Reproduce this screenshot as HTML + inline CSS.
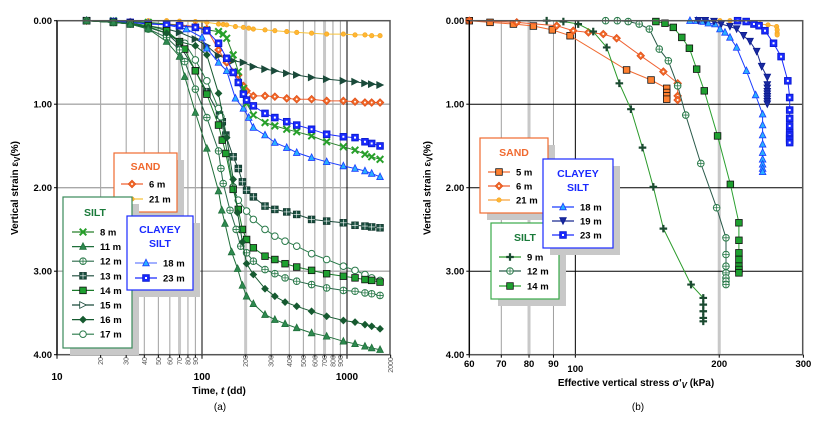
<!DOCTYPE html>
<html><head><meta charset="utf-8"><style>
body{margin:0;background:#fff;}
svg{display:block;font-family:"Liberation Sans",Arial,sans-serif;}
</style></head><body>
<svg id="chart" width="830" height="432" viewBox="0 0 830 432" xmlns="http://www.w3.org/2000/svg"></svg>
<script>
// ===== Panel (a) data: time (days) vs vertical strain (%) =====
const aTimeTicksMajor = [10, 100, 1000];
const aTimeTicksMinor = [20,30,40,50,60,70,80,90,200,300,400,500,600,700,800,900,2000];
const strainTicks = [0, 1, 2, 3, 4];
const strainTickLabels = ["0.00","1.00","2.00","3.00","4.00"];

const a21T = [16,24.5,32,42.6,57,70,90,108,130,140,148,170,193,210,226,272,318,384,450,570,724,944,1136,1330,1480,1690];
const a21S = [0,0,0,0,0,0.005,0.01,0.02,0.04,0.045,0.05,0.07,0.08,0.09,0.1,0.11,0.12,0.13,0.14,0.15,0.16,0.16,0.17,0.17,0.18,0.18];
const a6T = [16,24.5,32,42.6,57,70,90,108,130,148,178,193,203,226,272,318,384,450,570,724,944,1136,1330,1480,1690];
const a6S = [0,0.01,0.02,0.03,0.04,0.05,0.07,0.1,0.35,0.5,0.65,0.78,0.84,0.9,0.9,0.91,0.93,0.94,0.94,0.96,0.96,0.97,0.98,0.98,0.98];
const a15T = [16,24.5,32,42.6,57,70,90,108,130,148,164,193,226,272,318,384,450,570,724,944,1136,1330,1480,1690];
const a15S = [0,0.01,0.03,0.06,0.1,0.14,0.22,0.3,0.42,0.45,0.48,0.5,0.55,0.58,0.6,0.63,0.65,0.68,0.7,0.72,0.73,0.75,0.76,0.77];
const a23T = [16,24.5,32,42.6,57,70,90,108,130,148,164,178,193,203,226,272,318,384,450,570,724,944,1136,1330,1480,1690];
const a23S = [0,0.01,0.02,0.04,0.05,0.06,0.08,0.12,0.27,0.45,0.62,0.74,0.88,0.95,1.02,1.11,1.16,1.21,1.25,1.3,1.36,1.39,1.4,1.45,1.47,1.5];
const a18T = [16,24.5,32,42.6,57,78,100,108,130,148,170,193,210,226,272,318,384,450,570,724,944,1136,1330,1480,1690];
const a18S = [0,0.01,0.02,0.03,0.05,0.1,0.2,0.33,0.5,0.6,0.93,1.05,1.16,1.28,1.37,1.46,1.52,1.58,1.64,1.69,1.74,1.77,1.8,1.83,1.87];
const a8T = [24.5,42.6,57,70,90,108,130,140,148,164,178,193,203,226,272,318,384,450,570,724,944,1136,1330,1480,1690];
const a8S = [0,0.02,0.04,0.06,0.08,0.11,0.13,0.16,0.21,0.41,0.61,0.81,0.99,1.13,1.22,1.26,1.3,1.33,1.38,1.45,1.51,1.55,1.6,1.63,1.66];
const a11T = [16,24.5,32,42.6,57,70,76,90,108,130,137,144,160,176,190,203,226,272,318,374,450,570,724,944,1136,1330,1480,1690];
const a11S = [0,0.02,0.04,0.1,0.25,0.43,0.67,1.1,1.53,2.04,2.27,2.43,2.77,2.97,3.17,3.3,3.39,3.52,3.58,3.63,3.68,3.74,3.78,3.84,3.87,3.9,3.92,3.94];
const a16T = [16,24.5,32,42.6,57,70,90,108,130,148,164,176,190,203,226,272,318,374,450,570,724,944,1136,1330,1480,1690];
const a16S = [0,0.02,0.04,0.08,0.15,0.25,0.3,0.41,0.87,1.4,1.9,2.3,2.65,2.91,3.04,3.21,3.3,3.37,3.42,3.48,3.54,3.59,3.61,3.64,3.66,3.69];
const a12T = [16,24.5,32,42.6,57,70,76,90,108,130,135,140,156,172,185,203,226,272,318,374,450,570,724,944,1136,1330,1480,1690];
const a12S = [0,0.02,0.04,0.1,0.2,0.35,0.49,0.82,1.16,1.56,1.77,1.95,2.27,2.5,2.7,2.78,2.88,2.98,3.03,3.08,3.12,3.16,3.2,3.23,3.24,3.26,3.27,3.29];
const a17T = [16,24.5,32,42.6,57,76,90,108,130,135,164,178,203,226,272,318,374,450,570,724,944,1136,1330,1480,1690];
const a17S = [0,0.02,0.03,0.07,0.15,0.27,0.47,0.72,1.05,1.15,1.99,2.15,2.28,2.38,2.5,2.58,2.64,2.7,2.79,2.86,2.94,2.99,3.04,3.08,3.11];
const a14T = [16,24.5,32,42.6,57,70,76,90,108,130,138,146,164,178,190,203,226,272,318,374,450,570,724,944,1136,1330,1480,1690];
const a14S = [0,0.02,0.03,0.06,0.12,0.25,0.34,0.6,0.88,1.25,1.43,1.59,2.02,2.26,2.5,2.62,2.72,2.82,2.86,2.91,2.95,2.99,3.03,3.06,3.08,3.1,3.11,3.13];
const a13T = [16,24.5,32,42.6,57,70,90,108,132,138,146,164,178,190,203,226,272,318,384,450,570,724,944,1136,1330,1480,1690];
const a13S = [0,0.02,0.04,0.08,0.15,0.29,0.6,0.85,1.13,1.21,1.37,1.63,1.77,1.93,2.03,2.11,2.22,2.26,2.29,2.32,2.38,2.4,2.42,2.45,2.46,2.47,2.48];

// ===== Panel (b) data: effective vertical stress (kPa) vs strain (%) =====
const bStressTicks = [60,70,80,90,100,200,300];
const b5X = [60,66.3,74.2,81.7,89.5,97.5,128,144,155.3,155.3,155.3,155.3];
const b5S = [0,0.02,0.04,0.064,0.11,0.18,0.59,0.71,0.81,0.86,0.9,0.94];
const b6X = [60,75.4,91.4,99,106.5,114.4,122,137,152.8,163.7,163.7,163.7];
const b6S = [0,0.02,0.06,0.12,0.14,0.16,0.21,0.42,0.61,0.75,0.9,0.95];
const b21X = [200.7,210.6,228,243.6,253,263.7,264.4,264.4,264.4];
const b21S = [0,0,0.01,0.04,0.05,0.07,0.11,0.15,0.17];
const b18X = [173.7,179.4,185,189.8,196,200.7,205.6,210.6,217.5,228,238.3,246.5,246.5,246.5,246.5,246.5,246.5,246.5,246.5,246.5];
const b18S = [0,0,0.01,0.03,0.04,0.1,0.14,0.2,0.32,0.6,0.89,1.12,1.25,1.37,1.48,1.58,1.66,1.72,1.77,1.81];
const b19X = [180.8,187,195,202,210.6,217.5,224.8,232,239.5,245.4,252.1,252.1,252.1,252.1,252.1,252.1,252.1,252.1,252.1];
const b19S = [0,0,0.01,0.04,0.07,0.1,0.18,0.25,0.37,0.55,0.68,0.77,0.81,0.85,0.88,0.91,0.94,0.97,1.0];
const b23X = [218.5,227.7,236.4,242.3,249.3,259.8,269.4,278.3,280.8,280.8,280.8,280.8,280.8,280.8,280.8,280.8,280.8];
const b23S = [0,0.01,0.04,0.06,0.12,0.27,0.43,0.72,0.92,1.07,1.17,1.26,1.34,1.37,1.41,1.43,1.46];
const b9X = [87.1,94.4,101.4,109,116.3,123.6,130.7,138.2,145.6,152.8,174.6,185.2,185.2,185.2,185.2,185.2];
const b9S = [0,0.01,0.04,0.13,0.32,0.75,1.06,1.52,1.99,2.49,3.16,3.32,3.4,3.48,3.56,3.6];
const b12X = [115.7,122.4,129,136,142.8,149.8,156.5,163.7,170.2,183,197.5,206.6,206.6,206.6,206.6,206.6,206.6,206.6];
const b12S = [0,0,0.01,0.04,0.1,0.34,0.48,0.78,1.13,1.71,2.24,2.6,2.8,2.94,3.02,3.08,3.12,3.16];
const b14X = [147.4,154,160.3,167,173.2,179.4,186.1,198.4,211,219.9,219.9,219.9,219.9,219.9,219.9,219.9];
const b14S = [0.01,0.03,0.08,0.2,0.33,0.58,0.84,1.38,1.96,2.42,2.63,2.78,2.86,2.94,2.98,3.02];

// ===== scales =====
const A = {x0:57, decade:145, xmin:10, left:57, right:390};
const B = {x0:469.3, decade:478, xmin:60, left:469.3, right:802.7};
const Y0 = 20.7, YPER = 83.5;
function axA(t){ return A.x0 + A.decade*Math.log10(t/A.xmin); }
function axB(s){ return B.x0 + B.decade*Math.log10(s/B.xmin); }
function ay(v){ return Y0 + YPER*v; }

const NS = "http://www.w3.org/2000/svg";
const svg = document.getElementById('chart');
function el(tag, attrs, parent){
  const e = document.createElementNS(NS, tag);
  for (const k in attrs) e.setAttribute(k, attrs[k]);
  (parent||svg).appendChild(e);
  return e;
}
function txt(x,y,s,attrs,parent){
  const e = el('text', Object.assign({x:x,y:y}, attrs||{}), parent);
  e.textContent = s; return e;
}

// marker drawing
function marker(g, type, x, y, col, fill){
  const r = 3.3;
  if (type==='x'){
    el('path',{d:`M${x-r},${y-r}L${x+r},${y+r}M${x-r},${y+r}L${x+r},${y-r}`,stroke:col,'stroke-width':2},g);
  } else if (type==='tri'){
    el('path',{d:`M${x},${y-r-0.5}L${x+r},${y+r-0.5}L${x-r},${y+r-0.5}Z`,fill:fill,stroke:col,'stroke-width':0.8},g);
  } else if (type==='tridown'){
    el('path',{d:`M${x},${y+r}L${x+r},${y-r}L${x-r},${y-r}Z`,fill:fill,stroke:col,'stroke-width':0.8},g);
  } else if (type==='triR'){
    el('path',{d:`M${x+r},${y}L${x-r},${y-r}L${x-r},${y+r}Z`,fill:fill,stroke:col,'stroke-width':0.8},g);
  } else if (type==='cplus'){
    el('circle',{cx:x,cy:y,r:r,fill:'#fff',stroke:col,'stroke-width':1},g);
    el('path',{d:`M${x-r},${y}L${x+r},${y}M${x},${y-r}L${x},${y+r}`,stroke:col,'stroke-width':0.8},g);
  } else if (type==='circle'){
    el('circle',{cx:x,cy:y,r:r,fill:fill,stroke:col,'stroke-width':1},g);
  } else if (type==='sq'){
    el('rect',{x:x-r,y:y-r,width:2*r,height:2*r,fill:fill,stroke:'#111','stroke-width':0.8},g);
  } else if (type==='sqgrid'){
    el('rect',{x:x-r,y:y-r,width:2*r,height:2*r,fill:fill,stroke:col,'stroke-width':0.9},g);
    el('path',{d:`M${x-r},${y}L${x+r},${y}M${x},${y-r}L${x},${y+r}`,stroke:'#fff','stroke-width':0.6},g);
  } else if (type==='sqdot'){
    el('rect',{x:x-r,y:y-r,width:2*r,height:2*r,fill:fill,stroke:col,'stroke-width':0.9},g);
    el('rect',{x:x-1,y:y-1,width:2,height:2,fill:'#fff'},g);
  } else if (type==='diamond'){
    el('path',{d:`M${x},${y-r-0.5}L${x+r+0.5},${y}L${x},${y+r+0.5}L${x-r-0.5},${y}Z`,fill:fill,stroke:col,'stroke-width':0.8},g);
    el('circle',{cx:x,cy:y,r:1,fill:'#fff'},g);
  } else if (type==='diamondS'){
    el('path',{d:`M${x},${y-r}L${x+r},${y}L${x},${y+r}L${x-r},${y}Z`,fill:fill,stroke:col,'stroke-width':0.8},g);
  } else if (type==='plus'){
    el('path',{d:`M${x-r-0.5},${y}L${x+r+0.5},${y}M${x},${y-r-0.5}L${x},${y+r+0.5}`,stroke:col,'stroke-width':2.2},g);
  } else if (type==='smallcircle'){
    el('circle',{cx:x,cy:y,r:2.2,fill:fill,stroke:col,'stroke-width':0.7},g);
  }
}

// ===== Panel (a) grid & axes =====
const gA = el('g',{});


const plotBgA = el('rect',{x:A.left,y:Y0,width:A.right-A.left,height:ay(4)-Y0,fill:'#fff'},gA);
aTimeTicksMinor.forEach(t=>{
  if (t>=2000) return;
  const thick = (t===70||t===200||t===700);
  const ln = el('line',{x1:axA(t),x2:axA(t),y1:Y0,y2:ay(4),stroke:thick?'#c8c8c8':'#a0a0a0','stroke-width':thick?3:1},gA);
  
  
});
[1,2,3].forEach(v=>{
  const ln = el('line',{x1:A.left,x2:A.right,y1:ay(v),y2:ay(v),stroke:'#a8a8a8','stroke-width':1.3},gA);
  
  
});
[100,1000].forEach(t=>{
  el('line',{x1:axA(t),x2:axA(t),y1:Y0,y2:ay(4),stroke:'#000','stroke-width':1},gA);
});

// ===== Panel (b) grid & axes =====
const gB = el('g',{});


[70,80,90,200].forEach(s=>{
  const thick = (s===80||s===200);
  const ln = el('line',{x1:axB(s),x2:axB(s),y1:Y0,y2:ay(4),stroke:thick?'#c8c8c8':'#a0a0a0','stroke-width':thick?3:1},gB);
  
  
});
el('line',{x1:axB(100),x2:axB(100),y1:Y0,y2:ay(4),stroke:'#000','stroke-width':1},gB);
[1,2,3].forEach(v=>{
  const ln = el('line',{x1:B.left,x2:B.right,y1:ay(v),y2:ay(v),stroke:'#000','stroke-width':1},gB);
  
  
});

// ===== series =====
const seriesA = [
  {n:'sand-21m',x:a21T,y:a21S,m:'smallcircle',c:'#f5a623',f:'#ffb733',lc:'#f7c23a'},
  {n:'silt-15m',x:a15T,y:a15S,m:'triR',c:'#1a4a3a',f:'#1a4a3a',lc:'#1a4a3a'},
  {n:'sand-6m',x:a6T,y:a6S,m:'diamond',c:'#e2501a',f:'#f06a2a',lc:'#f06030'},
  {n:'clayey-silt-18m',x:a18T,y:a18S,m:'tri',c:'#1a3cff',f:'#2ab0ff',lc:'#1a3cff'},
  {n:'silt-8m',x:a8T,y:a8S,m:'x',c:'#27a02a',f:'#27a02a',lc:'#27802a'},
  {n:'clayey-silt-23m',x:a23T,y:a23S,m:'sqdot',c:'#0a1ad0',f:'#1a2aff',lc:'#1a2aff'},
  {n:'silt-13m',x:a13T,y:a13S,m:'sqgrid',c:'#143a30',f:'#1a5040',lc:'#1a4a3a'},
  {n:'silt-17m',x:a17T,y:a17S,m:'circle',c:'#2a7a4a',f:'#fff',lc:'#2a7a4a'},
  {n:'silt-14m',x:a14T,y:a14S,m:'sq',c:'#1a8a2a',f:'#1ea030',lc:'#1a7a2a'},
  {n:'silt-12m',x:a12T,y:a12S,m:'cplus',c:'#2a7a4a',f:'#fff',lc:'#2a6a4a'},
  {n:'silt-16m',x:a16T,y:a16S,m:'diamondS',c:'#165a30',f:'#165a30',lc:'#165a30'},
  {n:'silt-11m',x:a11T,y:a11S,m:'tri',c:'#1f6f3a',f:'#2e8a50',lc:'#1f6f3a'}
];
const seriesB = [
  {n:'sand-5m',x:b5X,y:b5S,m:'sq',c:'#e85a1a',f:'#ff8030',lc:'#f06a30'},
  {n:'sand-6m',x:b6X,y:b6S,m:'diamond',c:'#e2501a',f:'#f06a2a',lc:'#f06030'},
  {n:'sand-21m',x:b21X,y:b21S,m:'smallcircle',c:'#f5a623',f:'#ffb733',lc:'#f7a23a'},
  {n:'clayey-silt-18m',x:b18X,y:b18S,m:'tri',c:'#1a3cff',f:'#2ab0ff',lc:'#1a3cff'},
  {n:'clayey-silt-19m',x:b19X,y:b19S,m:'tridown',c:'#0a1a90',f:'#1a2aa0',lc:'#1a2a90'},
  {n:'clayey-silt-23m',x:b23X,y:b23S,m:'sqdot',c:'#0a1ad0',f:'#1a2aff',lc:'#1a2aff'},
  {n:'silt-9m',x:b9X,y:b9S,m:'plus',c:'#1a4a30',f:'#1a4a30',lc:'#2a9a2a'},
  {n:'silt-12m',x:b12X,y:b12S,m:'cplus',c:'#2a7a4a',f:'#fff',lc:'#2a5a4a'},
  {n:'silt-14m',x:b14X,y:b14S,m:'sq',c:'#1a8a2a',f:'#1ea030',lc:'#2aa030'}
];
function drawSeries(list, fx, prefix){
  list.forEach(s=>{
    const g = el('g',{});
    
    
    const pts = s.x.map((v,i)=>fx(v).toFixed(1)+','+ay(s.y[i]).toFixed(1)).join(' ');
    el('polyline',{points:pts,fill:'none',stroke:s.lc,'stroke-width':1},g);
    s.x.forEach((v,i)=>marker(g,s.m,fx(v),ay(s.y[i]),s.c,s.f));
  });
}
drawSeries(seriesA, axA, 'a');
drawSeries(seriesB, axB, 'b');

// frames
el('rect',{x:A.left,y:Y0,width:A.right-A.left,height:ay(4)-Y0,fill:'none',stroke:'#555','stroke-width':1.5});
el('rect',{x:B.left,y:Y0,width:B.right-B.left,height:ay(4)-Y0,fill:'none',stroke:'#555','stroke-width':1.5});
el('line',{x1:A.left,x2:A.left,y1:Y0,y2:ay(4),stroke:'#000','stroke-width':1.2});
el('line',{x1:B.left,x2:B.left,y1:Y0,y2:ay(4),stroke:'#000','stroke-width':1.2});

// y tick labels
[[A.left,'a'],[B.left,'b']].forEach(([lx,p])=>{
  strainTicks.forEach((v,i)=>{
    el('line',{x1:lx-3,x2:lx,y1:ay(v),y2:ay(v),stroke:'#000'});
    const t = txt(lx-5,ay(v)+3.5,strainTickLabels[i],{'font-size':9.5,'font-weight':'bold','text-anchor':'end'});
    
    
  });
  const yt = txt(0,0,'',{'font-size':10,'font-weight':'bold','text-anchor':'middle',transform:`translate(${lx-39},188) rotate(-90)`});
  yt.innerHTML = 'Vertical strain ε<tspan font-size="8" dy="2">V</tspan><tspan dy="-2">(%)</tspan>';
  
  
});

// x ticks (a)
aTimeTicksMajor.forEach(t=>{
  el('line',{x1:axA(t),x2:axA(t),y1:ay(4),y2:ay(4)+4,stroke:'#000'});
  const e = txt(axA(t),380,String(t),{'font-size':10,'font-weight':'bold','text-anchor':'middle'});
  
  
});
aTimeTicksMinor.forEach(t=>{
  el('line',{x1:axA(t),x2:axA(t),y1:ay(4),y2:ay(4)+3,stroke:'#000'});
  const e = txt(0,0,String(t),{'font-size':7,fill:'#555','text-anchor':'middle',transform:`translate(${axA(t)+2.5},${t>=1000?365:361}) rotate(-90)`});
  
  
});
const xtA = txt(219,394,'',{'font-size':10,'font-weight':'bold','text-anchor':'middle'});
xtA.innerHTML = 'Time, <tspan font-style="italic">t</tspan> (dd)';


const capA = txt(220,410,'(a)',{'font-size':10,'text-anchor':'middle'});



// x ticks (b)
bStressTicks.forEach(s=>{
  el('line',{x1:axB(s),x2:axB(s),y1:ay(4),y2:ay(4)+3,stroke:'#000'});
  const e = txt(axB(s),s===100?372:367,String(s),{'font-size':9.5,'font-weight':'bold','text-anchor':'middle'});
  
  
});
const xtB = txt(636,386,'',{'font-size':10,'font-weight':'bold','text-anchor':'middle'});
xtB.innerHTML = 'Effective vertical stress σ\'<tspan font-size="8" dy="2" font-style="italic">V</tspan><tspan dy="-2"> (kPa)</tspan>';


const capB = txt(638,410,'(b)',{'font-size':10,'text-anchor':'middle'});



// ===== legends =====
function legendBox(name,x,y,w,h,border){
  const g = el('g',{});
  
  
  el('rect',{x:x+7,y:y+7,width:w,height:h,fill:'#c8c8c8'},g);
  el('rect',{x:x,y:y,width:w,height:h,fill:'#fff',stroke:border,'stroke-width':1.2},g);
  return g;
}
function legendEntry(g,x,y,label,m,c,f,lc){
  const e = el('g',{},g);
  
  
  el('line',{x1:x,x2:x+22,y1:y,y2:y,stroke:lc,'stroke-width':1.2},e);
  marker(e,m,x+11,y,c,f);
  txt(x+28,y+3.5,label,{'font-size':9.5,'font-weight':'bold'},e);
}
// (a) SAND
let g = legendBox('legend-sand-a',114,153,63,59,'#f06a30');
txt(145.5,170,'SAND',{'font-size':10.5,'font-weight':'bold',fill:'#f06a30','text-anchor':'middle'},g);
legendEntry(g,121,184,'6 m','diamond','#e2501a','#f06a2a','#f06030');
legendEntry(g,121,199,'21 m','smallcircle','#f5a623','#ffb733','#f7c23a');
// (a) SILT
g = legendBox('legend-silt-a',63,197,69,151,'#3a8a5a');
txt(95,216,'SILT',{'font-size':10.5,'font-weight':'bold',fill:'#1a7a3a','text-anchor':'middle'},g);
const siltA = [['8 m','x','#27a02a','#27a02a','#27802a'],['11 m','tri','#1f6f3a','#2e8a50','#1f6f3a'],['12 m','cplus','#2a7a4a','#fff','#2a6a4a'],['13 m','sqgrid','#143a30','#1a5040','#1a4a3a'],['14 m','sq','#1a8a2a','#1ea030','#1a7a2a'],['15 m','triR','#1a4a3a','#fff','#1a4a3a'],['16 m','diamondS','#165a30','#165a30','#165a30'],['17 m','circle','#2a7a4a','#fff','#2a7a4a']];
siltA.forEach((r,i)=>legendEntry(g,72,232+i*14.6,r[0],r[1],r[2],r[3],r[4]));
// (a) CLAYEY SILT
g = legendBox('legend-clayey-silt-a',127,216,66,74,'#1a2aff');
txt(160,233,'CLAYEY',{'font-size':10.5,'font-weight':'bold',fill:'#1a2aff','text-anchor':'middle'},g);
txt(160,247,'SILT',{'font-size':10.5,'font-weight':'bold',fill:'#1a2aff','text-anchor':'middle'},g);
legendEntry(g,135,263,'18 m','tri','#1a3cff','#2ab0ff','#6a80ff');
legendEntry(g,135,278,'23 m','sqdot','#0a1ad0','#1a2aff','#1a2aff');
// (b) SAND
g = legendBox('legend-sand-b',480,138,68,75,'#f06a30');
txt(514,156,'SAND',{'font-size':10.5,'font-weight':'bold',fill:'#f06a30','text-anchor':'middle'},g);
legendEntry(g,488,172,'5 m','sq','#e85a1a','#ff8030','#f06a30');
legendEntry(g,488,186,'6 m','diamond','#e2501a','#f06a2a','#f06030');
legendEntry(g,488,200,'21 m','smallcircle','#f5a623','#ffb733','#f7a23a');
// (b) SILT
g = legendBox('legend-silt-b',491,223,68,76,'#3aaa4a');
txt(525,241,'SILT',{'font-size':10.5,'font-weight':'bold',fill:'#1a7a3a','text-anchor':'middle'},g);
legendEntry(g,499,257,'9 m','plus','#1a4a30','#1a4a30','#2a9a2a');
legendEntry(g,499,271,'12 m','cplus','#2a7a4a','#fff','#2a5a4a');
legendEntry(g,499,286,'14 m','sq','#1a8a2a','#1ea030','#2aa030');
// (b) CLAYEY SILT
g = legendBox('legend-clayey-silt-b',543,159,70,89,'#1a2aff');
txt(578,177,'CLAYEY',{'font-size':10.5,'font-weight':'bold',fill:'#1a2aff','text-anchor':'middle'},g);
txt(578,191,'SILT',{'font-size':10.5,'font-weight':'bold',fill:'#1a2aff','text-anchor':'middle'},g);
legendEntry(g,552,207,'18 m','tri','#1a3cff','#2ab0ff','#1a3cff');
legendEntry(g,552,221,'19 m','tridown','#0a1a90','#1a2aa0','#1a2a90');
legendEntry(g,552,235,'23 m','sqdot','#0a1ad0','#1a2aff','#1a2aff');
</script>
</body></html>
